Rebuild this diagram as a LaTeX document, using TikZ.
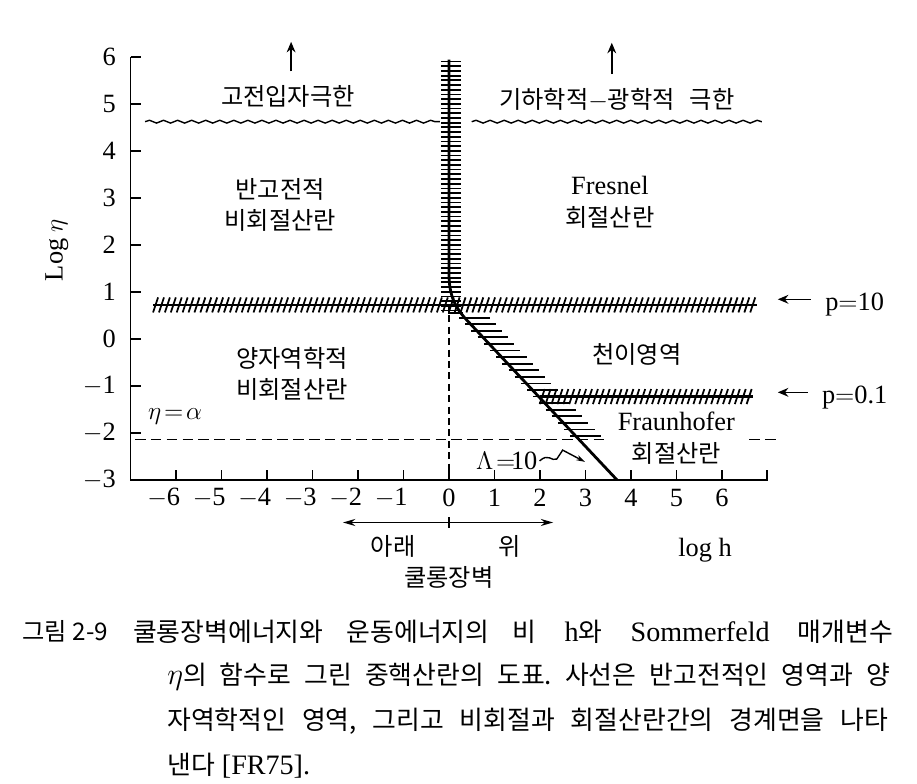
\documentclass[tikz,border=0pt]{standalone}
\usepackage{fontspec}
\setmainfont{Liberation Serif}
\newfontfamily\kr[Scale=0.92]{Noto Sans CJK KR}
\usetikzlibrary{arrows.meta, decorations.pathmorphing, positioning}
\frenchspacing

\tikzset{
	lbl/.style={font=\fontsize{15}{18}\selectfont, inner sep=1pt, align=center},
	caption/.style={font=\fontsize{16}{20}\selectfont, inner sep=0pt, anchor=west},
	border/.style={line width=1.6pt},
	hatch/.style={line width=1pt},
	wavy/.style={line width=0.8pt, decorate, decoration={snake, amplitude=0.8pt, segment length=8pt}},
	ptr/.style={line width=0.9pt, -{Stealth[length=6pt, width=5pt]}},
}

\begin{document}
\begin{tikzpicture}[x=0.91cm, y=0.94cm]
	\useasboundingbox (-9.87,-9.47) rectangle (10.29,7.21);
	
	% Axes
	\draw[line width=1pt] (-7,6) -- (-7,-3) -- (7,-3) -- (7,-2.8);
	\foreach \k in {-3,...,6} \draw[line width=1pt] (-7,\k) -- (-6.78,\k);
	\foreach \k in {-6,...,6} \draw[line width=1pt] (\k,-3) -- (\k,-2.8);
	\foreach \k in {0,...,6} {
		\node[lbl, anchor=east] (yl\k) at (-7.28,\k) {\k};
		\node[lbl] (xl\k) at (\k,-3.38) {\k};
	}
	\foreach \k in {1,...,3}
		\node[lbl, anchor=east] (ylm\k) at (-7.28,-\k) {$-$\k};
	\foreach \k in {1,...,6}
		\node[lbl] (xlm\k) at (-\k-0.27,-3.38) {$-$\k};
	\node[lbl, rotate=90] (ylabel) at (-8.62,1.89) {Log $\eta$};
	\node[lbl] (xlabel) at (5.63,-4.49) {log~h};
	
	% Coulomb barrier
	\coordinate (barL) at (-2.33,-3.91);
	\coordinate (barR) at (2.29,-3.91);
	\draw[line width=0.9pt, {Stealth[length=7pt,width=4pt]}-{Stealth[length=7pt,width=4pt]}] (barL) -- (barR);
	\draw[line width=0.9pt] (0,-3.8) -- (0,-4.02);
	\node[lbl] (below) at (-1.23,-4.42) {\kr 아래};
	\node[lbl] (above) at (1.34,-4.42) {\kr 위};
	\node[lbl] (barrier) at (0,-5.08) {\kr 쿨롱장벽};
	
	% Limits
	\draw[wavy] (-6.68,4.62) -- (-0.2,4.62);
	\draw[wavy] (0.5,4.62) -- (6.88,4.62);
	\node[lbl] (classical) at (-3.54,5.15) {\kr 고전입자극한};
	\node[lbl] (geometric) at (3.69,5.09) {{\kr 기하학적}$-${\kr 광학적}\hspace{0.3cm}{\kr 극한}};
	\coordinate (clstop) at (-3.47,6.32);
	\coordinate (geotop) at (3.58,6.3);
	\draw[ptr, shorten <=7pt] (clstop |- classical.north) -- (clstop);
	\draw[ptr, shorten <=7pt] (geotop |- geometric.north) -- (geotop);
	
	% Regions
	\node[lbl] (semiclass) at (-3.71,2.85) {\kr 반고전적\\\kr 비회절산란};
	\node[lbl] (fresnel) at (3.54,2.9) {Fresnel\\\kr 회절산란};
	\node[lbl] (quantum) at (-3.45,-0.75) {\kr 양자역학적\\\kr 비회절산란};
	\node[lbl] (transition) at (4.13,-0.34) {\kr 천이영역};
	\node[lbl] (fraunhofer) at (5.0,-2.11) {Fraunhofer\\\kr 회절산란};
	\node[lbl] (etaalpha) at (-6.02,-1.66) {$\eta\!=\!\alpha$};
	
	% Boundaries
	\draw[border] (-6.5,0.72) -- (6.77,0.72);
	\foreach \x in {-6.45,-6.32,...,6.72} \draw[hatch] (\x-0.055,0.56) -- (\x+0.055,0.88);
	\draw[border] (2,-1.23) -- (6.68,-1.23);
	\foreach \x in {2.05,2.18,...,6.65} \draw[hatch] (\x-0.055,-1.39) -- (\x+0.055,-1.07);
	\draw[border] (0,5.94) -- (0,1.4) .. controls (0,0.9) and (0.15,0.65) .. (0.39,0.4) -- (3.69,-3);
	\foreach \y in {5.9,5.8,...,0.55} \draw[hatch] (-0.17,\y) -- (0.27,\y);
	\foreach \y in {0.45,0.31,...,-2.2} \draw[hatch] (0.66-0.97*\y,\y) -- (1.33-0.97*\y,\y);
	\draw[line width=0.8pt] (0,0.72) -- (0,0.55) -- (0.3,0.55);
	
	% Dashed lines
	\draw[line width=0.8pt, dash pattern=on 4pt off 2.5pt] (0,0.5) -- (0,-3);
	\draw[line width=0.8pt, dash pattern=on 6pt off 3pt] (-6.9,-2.15) -- (3.5,-2.15);
	\draw[line width=0.8pt, dash pattern=on 6pt off 3pt] (6.6,-2.15) -- (7.2,-2.15);
	
	% Lambda = 10
	\node[lbl] (lambda) at (1.27,-2.6) {$\Lambda\!=\!$10};
	\coordinate (lamtip) at (2.99,-2.62);
	\draw[line width=0.8pt, -{Stealth[length=5pt,width=3pt]}] (lambda.east) .. controls (2.2,-2.42) and (2.25,-2.62) .. (2.37,-2.56) -- (2.5,-2.37) -- (lamtip);
	
	% p labels
	\node[lbl] (p10) at (8.92,0.72) {p$=$10};
	\node[lbl] (p01) at (8.92,-1.25) {p$=$0.1};
	\coordinate (p10tip) at (7.23,0.84);
	\coordinate (p01tip) at (7.23,-1.14);
	\draw[ptr, shorten <=7pt] (p10.west |- p10tip) -- (p10tip);
	\draw[ptr, shorten <=7pt] (p01.west |- p01tip) -- (p01tip);
	
	% Caption
	\node[caption, font=\fontsize{15}{18}\selectfont] (capnum) at (-9.38,-6.23) {\kr 그림 2-9};
	\node[caption] (cap1) at (-6.95,-6.23) {\makebox[15.2cm][s]{{\kr 쿨롱장벽에너지와 운동에너지의 비} h{\kr 와} Sommerfeld {\kr 매개변수}}};
	\node[caption] (cap2) at (-6.2,-7.19) {\makebox[14.46cm][s]{$\eta${\kr 의 함수로 그린 중핵산란의 도표. 사선은 반고전적인 영역과 양}}};
	\node[caption] (cap3) at (-6.2,-8.15) {\makebox[14.42cm][s]{\kr 자역학적인 영역, 그리고 비회절과 회절산란간의 경계면을 나타}};
	\node[caption] (cap4) at (-6.2,-9.09) {{\kr 낸다} [FR75].};
\end{tikzpicture}
\end{document}
